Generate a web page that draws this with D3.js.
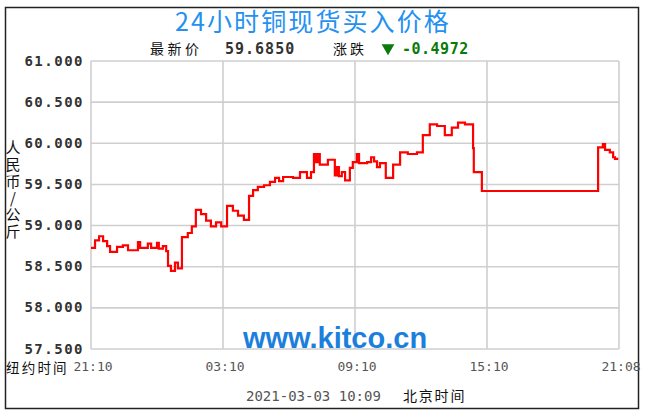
<!DOCTYPE html>
<html>
<head>
<meta charset="utf-8">
<script src="https://cdn.jsdelivr.net/npm/d3@7"></script>
<style>
  body { margin: 0; background: #fff; }
  svg { display: block; }
</style>
</head>
<body>
<div id="chart"></div>
<script>
// minutes since 21:10 (New York time), step values
const minutes = [0, 11, 22, 33, 44, 52, 71, 87, 101, 128, 134, 155, 164, 180, 185, 196, 205,
	210, 218, 229, 237, 248, 264, 275, 286, 300, 314, 327, 341, 355, 371, 387, 401, 417,
	431, 442, 455, 472, 488, 502, 513, 524, 551, 570, 589, 600, 608, 614, 619, 624, 646,
	665, 671, 676, 684, 693, 706, 714, 725, 731, 753, 764, 772, 780, 788, 804, 824, 843,
	864, 889, 905, 924, 944, 965, 984, 1001, 1020, 1042, 1044, 1066, 1383, 1396, 1402,
	1415, 1424, 1429, 1438];
const prices = [58.73, 58.82, 58.87, 58.81, 58.75, 58.68, 58.74, 58.76, 58.70, 58.80, 58.73,
	58.78, 58.73, 58.79, 58.72, 58.75, 58.69,
	58.51, 58.45, 58.55, 58.48, 58.86, 58.91, 58.99, 59.19, 59.14, 59.06, 58.99, 59.04,
	58.99, 59.24, 59.18, 59.12, 59.07,
	59.36, 59.43, 59.47, 59.49, 59.53, 59.58, 59.54, 59.59, 59.58, 59.65, 59.58, 59.65,
	59.87, 59.77, 59.87, 59.74, 59.80,
	59.61, 59.71, 59.60, 59.65, 59.55, 59.70, 59.77, 59.87, 59.76, 59.77, 59.83, 59.78,
	59.71, 59.76, 59.58, 59.74, 59.89,
	59.87, 59.89, 60.10, 60.23, 60.21, 60.10, 60.19, 60.25, 60.23, 59.94, 59.65, 59.42,
	59.95, 59.99, 59.92,
	59.89, 59.83, 59.81, 59.81];

const yTicks = [57.5, 58, 58.5, 59, 59.5, 60, 60.5, 61];
const xTickMinutes = [0, 360, 720, 1080, 1440];
const xTickLabels = ["21:10", "03:10", "09:10", "15:10", "21:08"];

const title = "24小时铜现货买入价格";
const lastPrice = "59.6850";
const change = "-0.4972";
const stamp = "2021-03-03 10:09";
const yTitle = "人民币/公斤";

const W = 645, H = 417;
const pLeft = 91, pRight = 619, pTop = 61, pBottom = 349;
const mono = "'DejaVu Sans Mono', 'Liberation Mono', monospace";
const cjk = "'Noto Sans CJK SC', sans-serif";

const svg = d3.select("#chart").append("svg")
	.attr("width", W)
	.attr("height", H);

// outer frame
svg.append("rect")
	.attr("x", 5.5).attr("y", 7.5)
	.attr("width", 633).attr("height", 401)
	.attr("fill", "none")
	.attr("stroke", "#222")
	.attr("stroke-width", 1.5);

const x = d3.scaleLinear().domain([0, 1440]).range([pLeft, pRight]);
const y = d3.scaleLinear().domain([57.5, 61]).range([pBottom, pTop]);

// grid
const grid = svg.append("g").attr("stroke", "#cfcfcf").attr("stroke-width", 1.6);
grid.selectAll("line.h")
	.data(yTicks)
	.enter().append("line")
	.attr("x1", pLeft).attr("x2", pRight)
	.attr("y1", d => y(d)).attr("y2", d => y(d));
grid.selectAll("line.v")
	.data(xTickMinutes)
	.enter().append("line")
	.attr("x1", d => x(d)).attr("x2", d => x(d))
	.attr("y1", pTop).attr("y2", pBottom);

// y tick labels
svg.append("g").selectAll("text")
	.data(yTicks)
	.enter().append("text")
	.attr("x", 84)
	.attr("y", d => y(d) + 4.5)
	.attr("text-anchor", "end")
	.attr("font-family", mono)
	.attr("font-weight", "bold")
	.attr("font-size", 14)
	.attr("letter-spacing", 1.5)
	.attr("fill", "#333")
	.text(d => d3.format(",.3f")(d));

// x tick labels
svg.append("g").selectAll("text")
	.data(xTickMinutes)
	.enter().append("text")
	.attr("x", d => x(d) + 2)
	.attr("y", 370.5)
	.attr("text-anchor", "middle")
	.attr("font-family", mono)
	.attr("font-size", 13)
	.attr("fill", "#555")
	.text((d, i) => xTickLabels[i]);

svg.append("text")
	.attr("x", 6).attr("y", 372.5)
	.attr("font-family", cjk)
	.attr("font-size", 13.5)
	.attr("letter-spacing", 2.2)
	.attr("fill", "#111")
	.text("纽约时间");

// y axis title, vertical writing
svg.append("text")
	.attr("x", 13).attr("y", 140)
	.style("writing-mode", "vertical-rl")
	.style("text-orientation", "upright")
	.attr("font-family", cjk)
	.attr("font-size", 15)
	.attr("letter-spacing", 1.8)
	.attr("fill", "#111")
	.text(yTitle);

// watermark
svg.append("text")
	.attr("x", 335).attr("y", 348)
	.attr("text-anchor", "middle")
	.attr("font-family", "'Liberation Sans', Arial, sans-serif")
	.attr("font-weight", "bold")
	.attr("font-size", 29)
	.attr("fill", "#1c7fdc")
	.text("www.kitco.cn");

// price line
const line = d3.line()
	.x((d, i) => x(minutes[i]))
	.y(d => y(d))
	.curve(d3.curveStepAfter);

svg.append("path")
	.datum(prices)
	.attr("fill", "none")
	.attr("stroke", "#ff0000")
	.attr("stroke-width", 2.2)
	.attr("d", line);

// title
svg.append("text")
	.attr("x", 313).attr("y", 31)
	.attr("text-anchor", "middle")
	.attr("font-family", cjk)
	.attr("font-size", 25)
	.attr("letter-spacing", 2.1)
	.attr("fill", "#2491f0")
	.text(title);

// subtitle
const sub = svg.append("g").attr("font-size", 14);
sub.append("text")
	.attr("x", 150).attr("y", 54)
	.attr("font-family", cjk)
	.attr("letter-spacing", 3.5)
	.attr("fill", "#111")
	.text("最新价");
sub.append("text")
	.attr("x", 225).attr("y", 54)
	.attr("font-family", mono)
	.attr("font-weight", "bold")
	.attr("font-size", 15)
	.attr("letter-spacing", 1)
	.attr("fill", "#333")
	.text(lastPrice);
sub.append("text")
	.attr("x", 333).attr("y", 54)
	.attr("font-family", cjk)
	.attr("letter-spacing", 3)
	.attr("fill", "#111")
	.text("涨跌");
sub.append("path")
	.attr("d", d3.symbol().type(d3.symbolTriangle).size(70))
	.attr("transform", "translate(388,48) rotate(180)")
	.attr("fill", "#0a7a0a");
sub.append("text")
	.attr("x", 402).attr("y", 54)
	.attr("font-family", mono)
	.attr("font-weight", "bold")
	.attr("font-size", 15)
	.attr("letter-spacing", 0.5)
	.attr("fill", "#0a7a0a")
	.text(change);

// bottom timestamp
svg.append("text")
	.attr("x", 246).attr("y", 401)
	.attr("font-family", mono)
	.attr("font-size", 14)
	.attr("fill", "#555")
	.text(stamp);
svg.append("text")
	.attr("x", 403).attr("y", 401)
	.attr("font-family", cjk)
	.attr("font-size", 14)
	.attr("letter-spacing", 1.8)
	.attr("fill", "#111")
	.text("北京时间");
</script>
</body>
</html>
